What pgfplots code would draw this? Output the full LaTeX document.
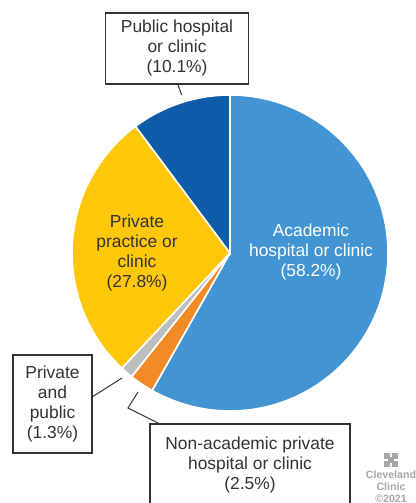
\documentclass[border=0pt]{standalone}
\usepackage{pgfplots}
\pgfplotsset{compat=1.18}
\usepackage{fontspec}
\setmainfont{Liberation Sans}

\definecolor{acad}{HTML}{4394D3}
\definecolor{nonacad}{HTML}{F28A25}
\definecolor{privpub}{HTML}{BDBEC0}
\definecolor{privprac}{HTML}{FFC709}
\definecolor{public}{HTML}{0D5BA9}
\definecolor{boxc}{HTML}{333333}
\definecolor{logoc}{HTML}{A6A6A6}

% slice: start (cumulative %), share (%), colour; clockwise from 12 o'clock
\newcommand\slice[3]{%
  \fill[#3, draw=white, line width=0.8pt]
    (axis cs:230,250) -- ++({90-3.6*(#1)}:79pt)
    arc[start angle={90-3.6*(#1)}, end angle={90-3.6*(#1+#2)}, radius=79pt] -- cycle;}

\tikzset{lbl/.style={font=\fontsize{8.7}{10}\selectfont, align=center, text=boxc},
         box/.style={lbl, draw=boxc, fill=white, line width=0.6pt, inner sep=0pt}}

\begin{document}
\begin{tikzpicture}
\useasboundingbox (0,0) rectangle (208pt,251.5pt);
\begin{axis}[
    x=0.5pt, y=0.5pt,
    xmin=0, xmax=416, ymin=0, ymax=503,
    hide axis,
    clip=false,
]
% shares in %: 58.2, 2.5, 1.3, 27.8, 10.1
\slice{0}{58.2}{acad}
\slice{58.2}{2.5}{nonacad}
\slice{60.7}{1.3}{privpub}
\slice{62.0}{27.8}{privprac}
\slice{89.8}{10.2}{public}

% leader lines
\addplot[boxc, line width=0.5pt, no markers] coordinates {(178,418) (181.7,408)};
\addplot[boxc, line width=0.5pt, no markers] coordinates {(92,106) (122,125)};
\addplot[boxc, line width=0.5pt, no markers] coordinates {(138,111) (128,95) (158,80)};

% labels inside the pie
\node[lbl, text=white] at (axis cs:311,251) {Academic\\hospital or clinic\\(58.2\%)};
\node[lbl] at (axis cs:137,250) {Private\\practice or\\clinic\\(27.8\%)};

% boxed labels
\node[box, minimum width=71.5pt, minimum height=35.5pt]
  at (axis cs:177,454.5) {Public hospital\\or clinic\\(10.1\%)};
\node[box, minimum width=39.5pt, minimum height=49pt]
  at (axis cs:52.5,99) {Private\\and\\public\\(1.3\%)};
\node[box, minimum width=100pt, minimum height=41pt]
  at (axis cs:250,38) {Non-academic private\\hospital or clinic\\(2.5\%)};

% logo
\fill[logoc] (axis cs:384,36) rectangle (axis cs:398,50);
\fill[white] (axis cs:390,36) rectangle (axis cs:392,50);
\fill[white] (axis cs:384,42) rectangle (axis cs:398,44);
\fill[logoc] (axis cs:388,40) rectangle (axis cs:394,46);
\node[align=center, text=logoc, inner sep=0pt, font=\bfseries\fontsize{5.3}{6}\selectfont]
  at (axis cs:391,16) {Cleveland\\Clinic\\\textcopyright2021};
\end{axis}
\end{tikzpicture}
\end{document}
